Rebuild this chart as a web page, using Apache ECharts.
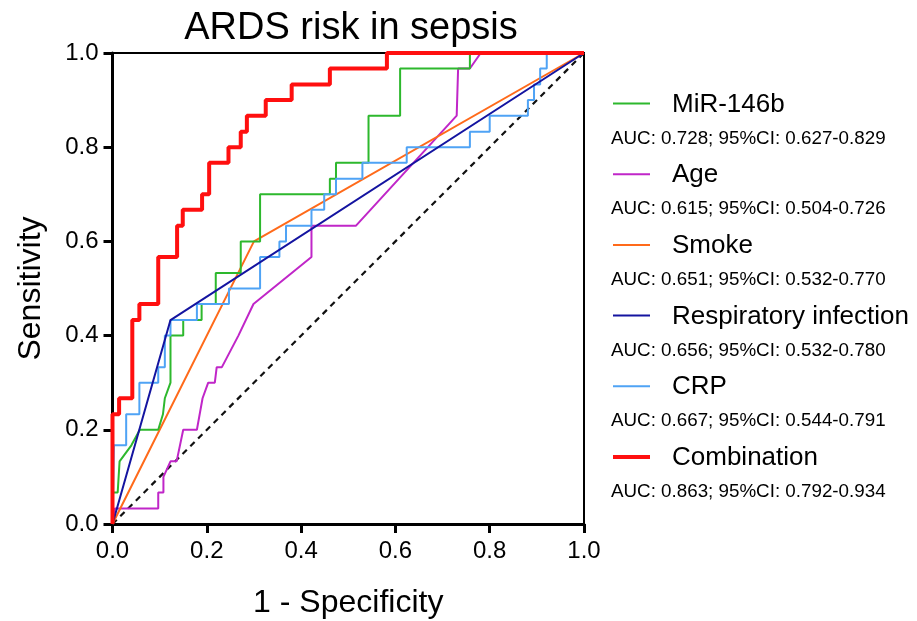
<!DOCTYPE html>
<html>
<head>
<meta charset="utf-8">
<script src="https://cdn.jsdelivr.net/npm/echarts@6/dist/echarts.min.js"></script>
<style>
html,body{margin:0;padding:0;background:#fff;}
#chart{width:917px;height:621px;}
</style>
</head>
<body>
<div id="chart"></div>
<script>
// ---- data ----
const titleText = 'ARDS risk in sepsis';
const xName = '1 - Specificity';
const yName = 'Sensitivity';
const tickLabels = ['0.0', '0.2', '0.4', '0.6', '0.8', '1.0'];

const seriesNames = ['MiR-146b', 'Age', 'Smoke', 'Respiratory infection', 'CRP', 'Combination'];
const aucTexts = [
  'AUC: 0.728; 95%CI: 0.627-0.829',
  'AUC: 0.615; 95%CI: 0.504-0.726',
  'AUC: 0.651; 95%CI: 0.532-0.770',
  'AUC: 0.656; 95%CI: 0.532-0.780',
  'AUC: 0.667; 95%CI: 0.544-0.791',
  'AUC: 0.863; 95%CI: 0.792-0.934'
];

const mir146b = [[0,0],[0,0.067],[0.011,0.067],[0.015,0.133],[0.04,0.167],[0.058,0.2],[0.097,0.2],[0.107,0.233],[0.111,0.267],[0.123,0.3],[0.123,0.4],[0.15,0.4],[0.15,0.433],[0.189,0.433],[0.189,0.467],[0.219,0.467],[0.219,0.533],[0.272,0.533],[0.272,0.6],[0.313,0.6],[0.313,0.7],[0.461,0.7],[0.461,0.733],[0.474,0.733],[0.474,0.767],[0.543,0.767],[0.543,0.867],[0.61,0.867],[0.61,0.967],[0.758,0.967],[0.758,1],[1,1]];

const age = [[0,0],[0.005,0.033],[0.097,0.033],[0.097,0.067],[0.108,0.067],[0.108,0.1],[0.123,0.133],[0.136,0.133],[0.15,0.2],[0.179,0.2],[0.191,0.267],[0.203,0.3],[0.217,0.3],[0.221,0.333],[0.232,0.333],[0.267,0.4],[0.299,0.467],[0.422,0.567],[0.422,0.633],[0.516,0.633],[0.73,0.867],[0.733,0.967],[0.758,0.967],[0.781,1],[1,1]];

const smoke = [[0,0],[0.3,0.6],[1,1]];

const respiratory = [[0,0],[0.123,0.433],[1,1]];

const crp = [[0,0],[0.003,0.167],[0.029,0.167],[0.029,0.233],[0.057,0.233],[0.057,0.3],[0.097,0.3],[0.097,0.333],[0.111,0.333],[0.111,0.4],[0.123,0.4],[0.123,0.433],[0.179,0.433],[0.179,0.467],[0.247,0.467],[0.247,0.5],[0.313,0.5],[0.313,0.567],[0.354,0.567],[0.354,0.6],[0.368,0.6],[0.368,0.633],[0.422,0.633],[0.422,0.667],[0.449,0.667],[0.449,0.7],[0.474,0.7],[0.474,0.733],[0.53,0.733],[0.53,0.767],[0.624,0.767],[0.624,0.8],[0.758,0.8],[0.758,0.833],[0.8,0.833],[0.8,0.867],[0.881,0.867],[0.881,0.9],[0.894,0.9],[0.894,0.933],[0.907,0.933],[0.907,0.967],[0.921,0.967],[0.921,1],[1,1]];

const combination = [[0,0],[0,0.233],[0.014,0.233],[0.014,0.267],[0.042,0.267],[0.042,0.433],[0.057,0.433],[0.057,0.467],[0.097,0.467],[0.097,0.567],[0.137,0.567],[0.137,0.633],[0.149,0.633],[0.149,0.667],[0.19,0.667],[0.19,0.7],[0.205,0.7],[0.205,0.767],[0.246,0.767],[0.246,0.8],[0.272,0.8],[0.272,0.833],[0.285,0.833],[0.285,0.867],[0.325,0.867],[0.325,0.9],[0.38,0.9],[0.38,0.933],[0.461,0.933],[0.461,0.967],[0.582,0.967],[0.582,1],[1,1]];

const reference = [[0,0],[1,1]];

// ---- styles ----
const colors = ['#2db82d', '#c026c8', '#ff6a1a', '#1414a0', '#4fa3f5', '#ff0f0f'];
const widths = [2, 2, 2, 2, 2, 4];
const dataList = [mir146b, age, smoke, respiratory, crp, combination];
const zOrder = [3, 1, 2, 5, 4, 6];

const FONT = 'Liberation Sans, Arial, sans-serif';

const chart = echarts.init(document.getElementById('chart'));

const series = [{
  type: 'line', data: reference, symbol: 'none', silent: true, z: 0,
  lineStyle: { color: '#111', width: 2.2, type: [6, 5] }
}];
dataList.forEach((d, i) => {
  series.push({
    name: seriesNames[i], type: 'line', data: d, symbol: 'none', z: 2 + zOrder[i],
    lineStyle: { color: colors[i], width: widths[i] }
  });
});

// legend as graphic
const graphics = [{
  type: 'text',
  style: { text: titleText, x: 351, y: 29, textAlign: 'center', textVerticalAlign: 'middle',
           font: '38px ' + FONT, fill: '#000' }
}];
const legTop = 103.5, legStep = 70.7;
seriesNames.forEach((n, i) => {
  const y = legTop + i * legStep;
  graphics.push({
    type: 'line', shape: { x1: 613, y1: y, x2: 650, y2: y },
    style: { stroke: colors[i], lineWidth: i === 5 ? 4 : 2 }
  });
  graphics.push({
    type: 'text',
    style: { text: n, x: 672, y: y + 1, textVerticalAlign: 'middle', font: '26px ' + FONT, fill: '#000' }
  });
  graphics.push({
    type: 'text',
    style: { text: aucTexts[i], x: 611, y: y + 35, textVerticalAlign: 'middle', font: '18.8px ' + FONT, fill: '#000' }
  });
});

const axisCommon = {
  type: 'value', min: 0, max: 1, interval: 0.2,
  axisLine: { show: true, lineStyle: { color: '#000', width: 3 } },
  axisTick: { show: true, length: 9, lineStyle: { color: '#000', width: 3 } },
  splitLine: { show: false },
  nameLocation: 'middle',
  nameTextStyle: { fontSize: 32, color: '#000', fontFamily: FONT }
};

chart.setOption({
  animation: false,
  backgroundColor: '#fff',
  textStyle: { fontFamily: FONT },
  grid: { left: 112.5, right: 333, top: 53, bottom: 97, show: true, borderColor: '#000', borderWidth: 2,
          containLabel: false, outerBoundsMode: 'none' },
  xAxis: Object.assign({}, axisCommon, {
    name: xName, nameGap: 63,
    axisLabel: { fontSize: 24, color: '#000', margin: 15, formatter: v => tickLabels[Math.round(v * 5)] }
  }),
  yAxis: Object.assign({}, axisCommon, {
    name: yName, nameGap: 65,
    axisLabel: { fontSize: 24, color: '#000', margin: 14, formatter: v => tickLabels[Math.round(v * 5)] }
  }),
  series: series,
  graphic: graphics
});
</script>
</body>
</html>
